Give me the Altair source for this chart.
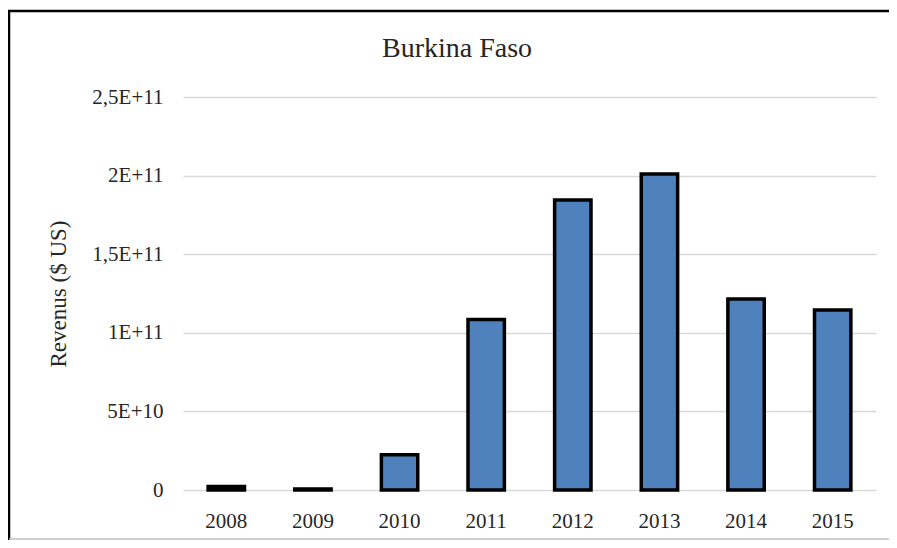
import altair as alt
import pandas as pd

years = ["2008", "2009", "2010", "2011", "2012", "2013", "2014", "2015"]
revenus = [2.3e9, 0.7e9, 2.25e10, 1.085e11, 1.845e11, 2.01e11, 1.215e11, 1.145e11]
tick_values = [0, 5e10, 1e11, 1.5e11, 2e11, 2.5e11]
tick_labels = ["0", "5E+10", "1E+11", "1,5E+11", "2E+11", "2,5E+11"]
chart_title = "Burkina Faso"

df = pd.DataFrame({"Année": years, "Revenus": revenus})

label_expr = ""
for v, l in zip(tick_values, tick_labels):
    label_expr += f"datum.value == {v:.0f} ? '{l}' : "
label_expr += "datum.label"

FONT = "Liberation Serif"
TXT = "#262626"

bars = alt.Chart(df).mark_bar(
    color="#4F81BD", stroke="#000000", strokeWidth=3.5
).encode(
    x=alt.X("Année:N", sort=years,
            scale=alt.Scale(paddingInner=0.58, paddingOuter=0.29),
            axis=alt.Axis(title=None, labelAngle=0, domain=False, ticks=False,
                          labelPadding=20, labelFontSize=21, labelFont=FONT,
                          labelColor=TXT, grid=False)),
    y=alt.Y("Revenus:Q",
            scale=alt.Scale(domain=[0, 2.5e11], nice=False),
            axis=alt.Axis(title="Revenus ($ US)", values=tick_values,
                          labelExpr=label_expr, domain=False, ticks=False,
                          labelPadding=20, labelFontSize=21, labelFont=FONT,
                          labelColor=TXT, titleFont=FONT, titleFontSize=23,
                          titleFontWeight="normal", titleColor=TXT,
                          titleX=-113, titleY=196.5, titleAngle=270,
                          titleAlign="center", titleBaseline="bottom",
                          gridColor="#D9D9D9", gridWidth=1.5)),
)

frame_df = pd.DataFrame({"k": [0]})
title_df = pd.DataFrame({"t": [chart_title]})

title_mark = alt.Chart(title_df).mark_text(
    font=FONT, fontSize=28, color=TXT, align="center", baseline="alphabetic"
).encode(x=alt.value(274), y=alt.value(-40), text="t:N")

left = alt.Chart(frame_df).mark_rule(color="#000000", strokeWidth=2.5).encode(
    x=alt.value(-174), y=alt.value(-86), y2=alt.value(445))
top = alt.Chart(frame_df).mark_rule(color="#000000", strokeWidth=2.5).encode(
    x=alt.value(-175), x2=alt.value(706), y=alt.value(-86))
bottom = alt.Chart(frame_df).mark_rule(color="#BFBFBF", strokeWidth=1.5).encode(
    x=alt.value(-174), x2=alt.value(706), y=alt.value(442))

chart = alt.layer(left, top, bottom, title_mark, bars).properties(
    width=693, height=393,
    autosize=alt.AutoSizeParams(type="none"),
    padding={"left": 175, "top": 89, "right": 13, "bottom": 50},
    background="#FFFFFF",
).configure_view(stroke=None)

chart.save("out.html", embed_options={"renderer": "svg", "actions": False})
